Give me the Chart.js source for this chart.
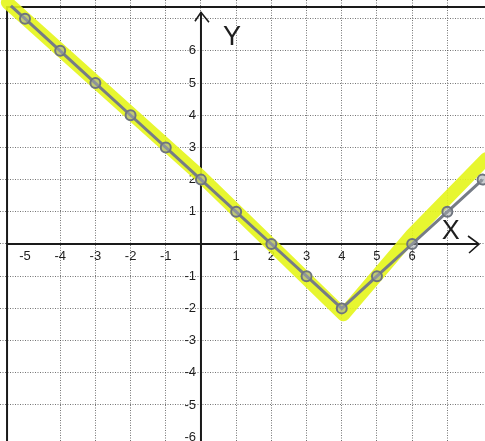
<!DOCTYPE html>
<html>
<head>
<meta charset="utf-8">
<script src="https://cdn.jsdelivr.net/npm/chart.js@4/dist/chart.umd.min.js"></script>
<style>
html,body{margin:0;padding:0;background:#fff;}
#c{display:block;}
</style>
</head>
<body>
<canvas id="c" width="485" height="441"></canvas>
<script>
// ---- data ----
const xTickLabels = [-5, -4, -3, -2, -1, 1, 2, 3, 4, 5, 6];
const yTickLabels = [6, 5, 4, 3, 2, 1, -1, -2, -3, -4, -5, -6];
const pointX = [-5.4, -5, -4, -3, -2, -1, 0, 1, 2, 3, 4, 5, 6, 7, 8];
const pointY = [7.4, 7, 6, 5, 4, 3, 2, 1, 0, -1, -2, -1, 0, 1, 2];
const highlightX = [-5.5, 0, 4.05, 6, 8.1];
const highlightY = [7.5, 2.1, -2.2, 0.3, 2.65];
const axisLabelX = 'X';
const axisLabelY = 'Y';

const pencilPts = pointX.map((x, i) => ({x, y: pointY[i]}));
const hlPts = highlightX.map((x, i) => ({x, y: highlightY[i]}));
const pointRadii = pointX.map(x => Number.isInteger(x) ? 5 : 0);

const FONT = '"Liberation Sans", Arial, sans-serif';

const axesPlugin = {
  id: 'handAxes',
  beforeDatasetsDraw(chart) {
    const {ctx, scales: {x, y}} = chart;
    const x0 = x.getPixelForValue(0);
    const y0 = y.getPixelForValue(0);
    const left = x.getPixelForValue(-5.51);
    const top = y.getPixelForValue(7.36);
    ctx.save();
    ctx.strokeStyle = '#1a1a1a';
    ctx.lineWidth = 2;
    // frame (left and top)
    ctx.beginPath();
    ctx.moveTo(left, chart.height);
    ctx.lineTo(left, top);
    ctx.lineTo(chart.width, top);
    ctx.stroke();
    // axes
    const xEnd = x.getPixelForValue(7.9);
    const yEnd = y.getPixelForValue(7.2);
    ctx.beginPath();
    ctx.moveTo(left, y0);
    ctx.lineTo(xEnd, y0);
    ctx.moveTo(x0, chart.height);
    ctx.lineTo(x0, yEnd);
    ctx.stroke();
    // arrows
    ctx.lineWidth = 1.6;
    ctx.beginPath();
    ctx.moveTo(xEnd - 11, y0 - 8);
    ctx.lineTo(xEnd, y0);
    ctx.lineTo(xEnd - 10, y0 + 9);
    ctx.moveTo(x0 - 6, yEnd + 9);
    ctx.lineTo(x0, yEnd);
    ctx.lineTo(x0 + 8, yEnd + 10);
    ctx.stroke();
    // tick labels
    ctx.fillStyle = '#1e1e1e';
    ctx.font = '13px ' + FONT;
    ctx.textAlign = 'center';
    ctx.textBaseline = 'middle';
    xTickLabels.forEach(v => {
      ctx.fillText(String(v), x.getPixelForValue(v), y0 + 12);
    });
    ctx.textAlign = 'right';
    yTickLabels.forEach(v => {
      ctx.fillText(String(v), x0 - 5, y.getPixelForValue(v));
    });
    // axis letters
    ctx.font = '27px ' + FONT;
    ctx.textAlign = 'center';
    ctx.fillText(axisLabelY, x.getPixelForValue(0.88), y.getPixelForValue(6.4));
    ctx.fillText(axisLabelX, x.getPixelForValue(7.1), y.getPixelForValue(0.38));
    ctx.restore();
  }
};

const gridOpts = {
  color: 'rgba(70,70,70,0.75)',
  lineWidth: 1,
  drawTicks: false
};

new Chart(document.getElementById('c'), {
  type: 'scatter',
  data: {
    datasets: [
      {
        data: hlPts,
        showLine: true,
        borderColor: 'rgba(228,245,25,0.9)',
        borderWidth: 13,
        borderCapStyle: 'round',
        borderJoinStyle: 'round',
        pointRadius: 0,
        order: 2
      },
      {
        data: pencilPts,
        showLine: true,
        borderColor: 'rgb(118,124,134)',
        borderWidth: 3,
        pointRadius: pointRadii,
        pointBorderColor: 'rgb(110,116,126)',
        pointBackgroundColor: 'rgba(160,165,172,0.55)',
        pointBorderWidth: 2,
        order: 1
      }
    ]
  },
  options: {
    responsive: false,
    animation: false,
    devicePixelRatio: 1,
    layout: {padding: 0, autoPadding: false},
    plugins: {legend: {display: false}, tooltip: {enabled: false}},
    scales: {
      x: {
        type: 'linear',
        min: -5.71, max: 8.07,
        ticks: {display: false, stepSize: 1},
        grid: gridOpts,
        border: {display: false, dash: [1, 1.5]},
        afterBuildTicks: s => { s.ticks = s.ticks.filter(t => Number.isInteger(t.value)); }
      },
      y: {
        type: 'linear',
        min: -6.12, max: 7.58,
        ticks: {display: false, stepSize: 1},
        grid: gridOpts,
        border: {display: false, dash: [1, 1.5]},
        afterBuildTicks: s => { s.ticks = s.ticks.filter(t => Number.isInteger(t.value)); }
      }
    }
  },
  plugins: [axesPlugin]
});
</script>
</body>
</html>
